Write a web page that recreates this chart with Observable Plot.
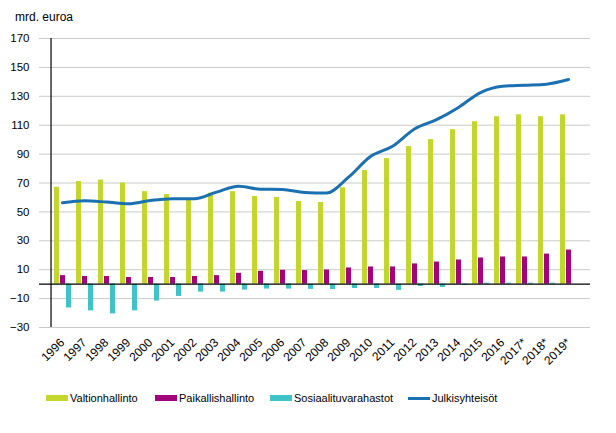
<!DOCTYPE html>
<html><head><meta charset="utf-8">
<script src="https://cdn.jsdelivr.net/npm/d3@7"></script>
<script src="https://cdn.jsdelivr.net/npm/@observablehq/plot@0.6"></script>
<style>
body{margin:0;background:#fff;font-family:"Liberation Sans",Arial,sans-serif;}
#title{height:30px;line-height:34px;padding-left:15px;font-size:12px;color:#000;}
#legend{position:relative;height:58px;font-size:11px;color:#000;}
.item{position:absolute;top:17px;display:flex;align-items:center;}
.sw{width:22px;height:6px;margin-right:2px;}
.ln{width:22px;height:3px;margin-right:2px;}
</style></head>
<body>
<div id="title">mrd. euroa</div>
<div id="chart"></div>
<div id="legend"></div>
<script>
const years = ["1996","1997","1998","1999","2000","2001","2002","2003","2004","2005","2006","2007","2008","2009","2010","2011","2012","2013","2014","2015","2016","2017*","2018*","2019*"];
const valtionhallinto = [67,71,72,70,64,62,59,63,64,60.7,60,57.2,56.5,66.7,78.6,86.9,95.2,100,106.9,112.4,115.9,117.2,115.9,117.2];
const paikallishallinto = [5.9,5.3,5.3,4.6,4.6,4.6,5.3,5.9,7.5,8.9,9.6,9.4,9.8,11.2,11.9,11.9,14,15.3,16.7,18.1,18.8,18.8,20.8,23.6];
const sosiaaliturvarahastot = [-16.5,-18.5,-20.6,-18.5,-11.7,-8.5,-5.5,-5.5,-4.1,-3.4,-3.4,-3.6,-3.7,-3,-3,-4.3,-1.6,-2.3,-0.9,0.7,0.7,0.7,0.7,0];
const julkisyhteisot = [56.3,57.7,56.8,55.6,57.9,59.1,59.1,63.7,67.8,65.7,65.5,63.4,63,74,88.3,95.4,107.4,113.8,122.3,132.6,137,137.7,138.4,141.6];
const yTicks = [-30,-10,10,30,50,70,90,110,130,150,170];
const seriesNames = ["Valtionhallinto","Paikallishallinto","Sosiaalituvarahastot","Julkisyhteisöt"];
const colors = ["#c2d62e","#a1047c","#3fc3c6","#1a70b0"];

const rows = years.map((y,i)=>({year:y,v:valtionhallinto[i],p:paikallishallinto[i],s:sosiaaliturvarahastot[i],j:julkisyhteisot[i]}));

const W = 616, ML = 39, MR = 26;
const bw = (W - ML - MR) / years.length;

const chart = Plot.plot({
  width:W, height:345,
  marginTop:8, marginBottom:48, marginLeft:ML, marginRight:MR,
  style:{fontFamily:"'Liberation Sans', Arial, sans-serif", fontSize:"11.5px", color:"#000"},
  x:{type:"band", domain:years, paddingInner:0, paddingOuter:0},
  y:{domain:[-30,170]},
  marks:[
    Plot.gridY(yTicks,{stroke:"#c8ccc6", strokeOpacity:1, strokeWidth:1}),
    Plot.barY(rows,{x:"year", y:"v", fill:colors[0], insetLeft:3, insetRight:14}),
    Plot.barY(rows,{x:"year", y:"p", fill:colors[1], insetLeft:9, insetRight:8}),
    Plot.barY(rows,{x:"year", y:"s", fill:colors[2], insetLeft:15, insetRight:2}),
    Plot.ruleY([0],{stroke:"#000", strokeWidth:1.2}),
    Plot.ruleX([years[0]],{y1:-30, y2:170, dx:-bw/2, stroke:"#000", strokeWidth:1.2}),
    Plot.line(rows,{x:"year", y:"j", stroke:colors[3], strokeWidth:3, curve:"monotone-x"}),
    Plot.axisY(yTicks,{tickSize:0, tickPadding:10, label:null}),
    Plot.axisX({tickSize:0, tickPadding:13, tickRotate:-45, label:null, dx:0, fontSize:12})
  ]
});
document.getElementById("chart").appendChild(chart);

const leg = document.getElementById("legend");
const pos = [[46,"sw"],[155,"sw"],[270,"sw"],[408,"ln"]];
seriesNames.forEach((n,i)=>{
  const d=document.createElement("div"); d.className="item"; d.style.left=pos[i][0]+"px";
  const s=document.createElement("span"); s.className=pos[i][1]; s.style.background=colors[i];
  const t=document.createElement("span"); t.textContent=n;
  d.appendChild(s); d.appendChild(t); leg.appendChild(d);
});
</script>
</body></html>
